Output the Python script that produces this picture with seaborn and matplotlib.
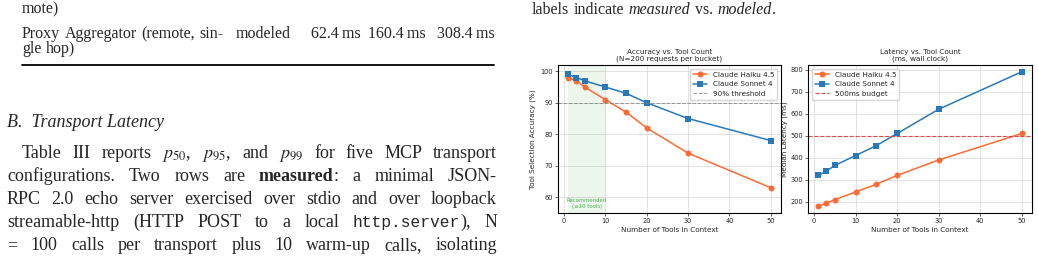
import matplotlib
matplotlib.use("Agg")
import matplotlib.pyplot as plt
import seaborn as sns

# --------------------------------------------------------------
# Data
# --------------------------------------------------------------
tool_counts = [1, 3, 5, 10, 15, 20, 30, 50]
haiku_acc = [98, 97, 95, 91, 87, 82, 74, 63]
sonnet_acc = [99, 98, 97, 95, 93, 90, 85, 78]
haiku_lat = [180, 195, 210, 245, 280, 320, 390, 510]
sonnet_lat = [320, 340, 365, 410, 455, 510, 620, 790]
models = ["Claude Haiku 4.5", "Claude Sonnet 4"]
colors = ["#ff6b35", "#2b78b8"]
markers = ["o", "s"]
acc_threshold = 90
lat_budget = 500
recommended_max = 10

# --------------------------------------------------------------
# Figure / page text
# --------------------------------------------------------------
sns.set_style("ticks", {"axes.grid": True, "grid.color": "#dddddd"})
plt.rcParams["mathtext.fontset"] = "stix"

W, H = 1038, 259
fig = plt.figure(figsize=(W / 100, H / 100), dpi=100)
SERIF = "Liberation Serif"
MONO = "Liberation Mono"
SMALL = 11.5   # table / caption text
BODY = 13      # body text
renderer = fig.canvas.get_renderer()


def px(x, y):
    return x / W, 1 - y / H


def put_line(y, words, x0, x1=None, size=BODY):
    # words: list of str or list of (text, kwargs) segments
    groups = []
    for w in words:
        segs = [(w, {})] if isinstance(w, str) else w
        arts = []
        for s, kw in segs:
            t = fig.text(*px(0, y), s, fontsize=kw.get("size", size), family=kw.get("family", SERIF),
                         style=kw.get("style", "normal"), weight=kw.get("weight", "normal"),
                         va="baseline", ha="left")
            arts.append((t, t.get_window_extent(renderer).width))
        groups.append(arts)
    widths = [sum(w for _, w in g) for g in groups]
    if x1 is None or len(groups) < 2:
        gap = size * 100 / 72 * 0.28
    else:
        gap = (x1 - x0 - sum(widths)) / (len(groups) - 1)
    x = x0
    for g, gw in zip(groups, widths):
        xx = x
        for t, w in g:
            t.set_position(px(xx, y))
            xx += w
        x += gw + gap


# table tail
put_line(13, ["mote)"], 22, size=SMALL)
put_line(38, ["Proxy", "Aggregator", "(remote,", "sin-"], 22, size=SMALL)
fig.text(*px(236, 38), "modeled", fontsize=SMALL, family=SERIF, va="baseline")
fig.text(*px(311, 38), "62.4\u2009ms", fontsize=SMALL, family=SERIF, va="baseline")
fig.text(*px(368, 38), "160.4\u2009ms", fontsize=SMALL, family=SERIF, va="baseline")
fig.text(*px(495, 38), "308.4\u2009ms", fontsize=SMALL, family=SERIF, va="baseline", ha="right")
put_line(53, ["gle", "hop)"], 22, size=SMALL)
fig.add_artist(plt.Line2D([22 / W, 494 / W], [1 - 65 / H, 1 - 65 / H], color="black", lw=1.3))

fig.text(*px(7, 127), "B.  Transport Latency", fontsize=BODY, family=SERIF, style="italic", va="baseline")

it = {"style": "italic"}
mono = {"family": MONO, "size": 11.7}
put_line(158, ["Table", "III", "reports", "$p_{50}$,", "$p_{95}$,", "and", "$p_{99}$", "for",
               "five", "MCP", "transport"], 22, 497)
put_line(181, ["configurations.", "Two", "rows", "are", [("measured", {"weight": "bold"}), (":", {})],
               "a", "minimal", "JSON-"], 7, 497)
put_line(204, ["RPC", "2.0", "echo", "server", "exercised", "over", "stdio", "and", "over", "loopback"], 7, 497)
put_line(227, ["streamable-http", "(HTTP", "POST", "to", "a", "local",
               [("http.server", mono), ("),", {})], "N"], 7, 497)
put_line(250, ["=", "100", "calls", "per", "transport", "plus", "10", "warm-up", "calls,", "isolating"], 7, 497)

put_line(14, ["labels", "indicate", [("measured", it)], "vs.", [("modeled", it), (".", {})]], 532, size=SMALL)

# --------------------------------------------------------------
# Charts
# --------------------------------------------------------------
ax1 = fig.add_axes([558 / W, 1 - 213 / H, 223 / W, 148 / H])
ax2 = fig.add_axes([808 / W, 1 - 213 / H, 224 / W, 148 / H])

ax1.axvspan(tool_counts[0], recommended_max, color="#4caf50", alpha=0.1, lw=0)
for name, vals, c, m in zip(models, [haiku_acc, sonnet_acc], colors, markers):
    sns.lineplot(x=tool_counts, y=vals, ax=ax1, color=c, marker=m, markersize=4.3,
                 markeredgewidth=0, linewidth=1.1, label=name)
ax1.axhline(acc_threshold, color="gray", ls="--", lw=0.7, alpha=0.8, label="90% threshold")
ax1.text((tool_counts[0] + recommended_max) / 2, 58, "Recommended\n(\u226410 tools)",
         ha="center", va="center", fontsize=3.9, color="#4caf50")
ax1.set_ylim(55, 102)
ax1.set_yticks([60, 70, 80, 90, 100])
ax1.set_title("Accuracy vs. Tool Count\n(N=200 requests per bucket)", fontsize=5.2, pad=3)
ax1.set_ylabel("Tool Selection Accuracy (%)", fontsize=5.2, labelpad=3)
ax1.legend(loc="upper right", fontsize=5.2, frameon=True)

for name, vals, c, m in zip(models, [haiku_lat, sonnet_lat], colors, markers):
    sns.lineplot(x=tool_counts, y=vals, ax=ax2, color=c, marker=m, markersize=4.3,
                 markeredgewidth=0, linewidth=1.1, label=name)
ax2.axhline(lat_budget, color="#e03a3a", ls="--", lw=0.8, alpha=0.9, label="500ms budget")
ax2.set_title("Latency vs. Tool Count\n(ms, wall clock)", fontsize=5.2, pad=3)
ax2.set_ylabel("Median Latency (ms)", fontsize=5.2, labelpad=1.5)
ax2.legend(loc="upper left", fontsize=5.2, frameon=True)

for ax in (ax1, ax2):
    ax.set_xlabel("Number of Tools in Context", fontsize=5.2, labelpad=2)
    ax.set_xticks([0, 10, 20, 30, 40, 50])
    ax.tick_params(labelsize=4.8, length=2, width=0.5, pad=1.5)
    ax.grid(True, color="#dddddd", lw=0.6)
    for s in ax.spines.values():
        s.set_linewidth(0.8)
        s.set_color("black")

fig.savefig("out.png", dpi=100)
